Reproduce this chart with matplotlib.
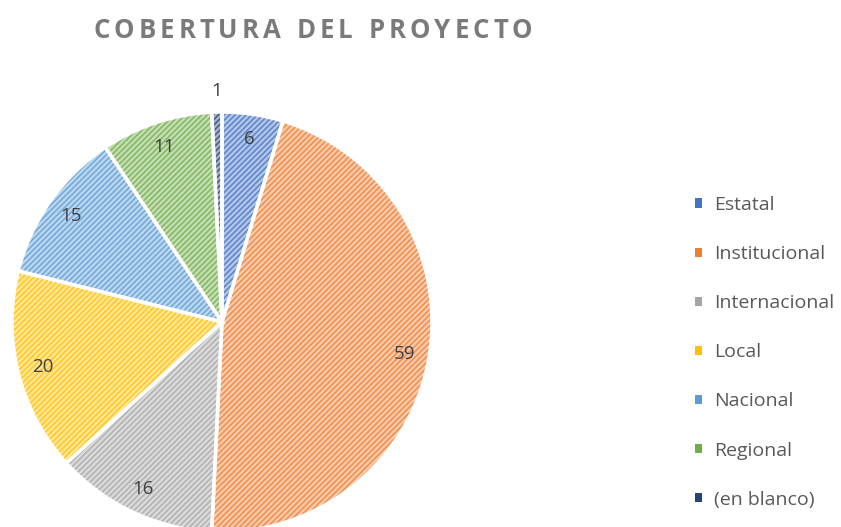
import matplotlib.pyplot as plt
import matplotlib.patches as mpatches
import numpy as np
from matplotlib.colors import to_rgb

categories = ['Estatal', 'Institucional', 'Internacional', 'Local', 'Nacional', 'Regional', '(en blanco)']
values = [6, 59, 16, 20, 15, 11, 1]
colors = ['#4472C4', '#ED7D31', '#A5A5A5', '#FFC000', '#5B9BD5', '#70AD47', '#264478']
title = 'COBERTURA DEL PROYECTO'

def tint(c, f=0.7):
    r, g, b = to_rgb(c)
    return (r + (1 - r) * f, g + (1 - g) * f, b + (1 - b) * f)

plt.rcParams['font.family'] = ['Open Sans', 'DejaVu Sans']
plt.rcParams['hatch.linewidth'] = 1.2

W, H = 841, 527
fig = plt.figure(figsize=(W / 100, H / 100), dpi=100)
ax = fig.add_axes([0, 0, 1, 1])

cx, cy, R = 222, H - 322, 210

wedges, _ = ax.pie(values, colors=[tint(c, 0.6) for c in colors], startangle=90, counterclock=False,
                   center=(cx, cy), radius=R, wedgeprops=dict(linewidth=0))
for w, c in zip(wedges, colors):
    w.set_hatch('//////')
    w.set_edgecolor(tint(c, 0.15))
    w.set_linewidth(0)

# white borders on top
ax.pie(values, colors=['none'] * len(values), startangle=90, counterclock=False,
       center=(cx, cy), radius=R, wedgeprops=dict(linewidth=2.5, edgecolor='white', fill=False))

for w, v in zip(wedges, values):
    ang = np.deg2rad((w.theta1 + w.theta2) / 2)
    d = 0.88 if v > 2 else 1.1
    ax.text(cx + d * R * np.cos(ang), cy + d * R * np.sin(ang), str(v),
            ha='center', va='center', fontsize=13.5, color='#404040')

ax.set_xlim(0, W)
ax.set_ylim(0, H)
ax.set_aspect('equal')
ax.axis('off')

# title with letter spacing, drawn char by char
renderer = fig.canvas.get_renderer()
tprops = dict(fontsize=18.5, fontweight='bold', color='#7A7A7A', va='center', ha='left')
widths = []
for ch in title:
    t = fig.text(0, 0, ch if ch != ' ' else 'I', **tprops)
    bb = t.get_window_extent(renderer)
    widths.append(bb.width if ch != ' ' else bb.width * 0.9)
    t.remove()
gap = 4.0
total = sum(widths) + gap * (len(title) - 1)
x = 313 - total / 2
for ch, wd in zip(title, widths):
    if ch != ' ':
        fig.text(x / W, 1 - 31 / H, ch, **tprops)
    x += wd + gap

handles = [mpatches.Patch(facecolor=c, edgecolor='none') for c in colors]
fig.legend(handles, categories, loc='upper left', bbox_to_anchor=(695 / W, 1 - 196 / H),
           frameon=False, fontsize=14, labelcolor='#595959', handlelength=0.35, handleheight=0.35,
           handletextpad=0.65, labelspacing=1.6, borderaxespad=0, borderpad=0)

fig.savefig('out.png', dpi=100)
